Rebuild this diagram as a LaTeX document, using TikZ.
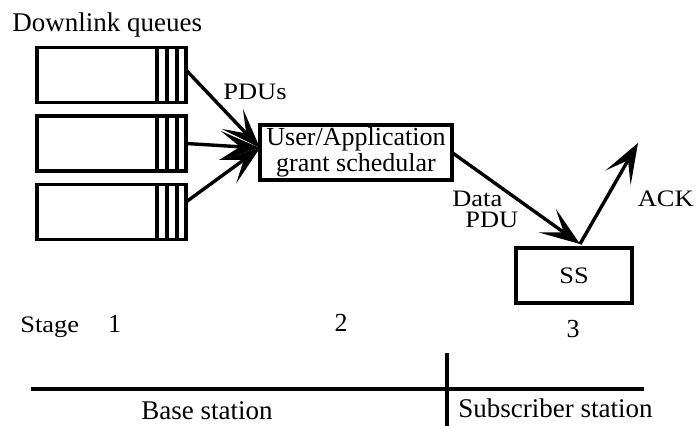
\documentclass[tikz,border=0pt]{standalone}
\usepackage{fontspec}
\setmainfont{Liberation Serif}
\newfontfamily\lblfont[FakeStretch=1.12]{Liberation Serif}
\usetikzlibrary{arrows.meta, positioning}

\tikzset{
  queue/.style={draw, line width=1.9pt, minimum width=74.5pt, minimum height=27.5pt, inner sep=0pt, outer sep=0pt},
  box/.style={draw, line width=1.9pt, minimum height=27.5pt, inner sep=0pt, outer sep=0pt, align=center},
  flow/.style={line width=1.7pt, -{Stealth[length=20pt, width=14.5pt, inset=10pt]}},
  big/.style={font=\fontsize{13.5}{16}\selectfont, inner sep=0pt},
  small/.style={font=\lblfont\fontsize{11.8}{13}\selectfont, inner sep=0pt},
  num/.style={font=\fontsize{13}{15}\selectfont, inner sep=0pt},
}

\begin{document}
\begin{tikzpicture}[x=0.5pt, y=-0.5pt]
  \useasboundingbox (0,0) rectangle (697,426);
  \node[big, anchor=base west] (title) at (12,32) {Downlink queues};
  \node[queue] (q1) at (111.5,75) {};
  \node[queue, below=6.75pt of q1] (q2) {};
  \node[queue, below=6.75pt of q2] (q3) {};
  \foreach \q in {q1,q2,q3}{
    \foreach \d in {14.5,9.5,4.5}
      \draw[line width=1.8pt] ([xshift=-\d pt]\q.north east) -- ([xshift=-\d pt]\q.south east);
  }
  \node[box, minimum width=96pt, font=\fontsize{13}{10}\selectfont] (sched) at (356,152.5) {User/Application\\grant schedular};
  \node[box, minimum width=58pt, font=\lblfont\fontsize{11.8}{13}\selectfont] (ss) at (574,275.5) {SS};
  \coordinate (in) at ([yshift=2.25pt]sched.west);
  \coordinate (hit) at ([xshift=3pt, yshift=2pt]ss.north);
  \coordinate (ackend) at (638,143);
  \draw[flow] ([yshift=2.5pt]q1.east) -- (in);
  \draw[flow] (q2.east) -- (in);
  \draw[flow] ([yshift=5pt]q3.east) -- (in);
  \draw[flow] (sched.east) -- (hit);
  \draw[flow] (hit) -- (ackend);
  \node[small, anchor=base west] (pdus) at (223,100) {PDUs};
  \node[small, anchor=base west] (data) at (452,207) {Data};
  \node[small, anchor=base west] (pdu) at (465,228) {PDU};
  \node[small, anchor=base east] (ack) at (694,207) {ACK};
  \node[small, anchor=base west] (stage) at (20,333) {Stage};
  \node[num, anchor=base] (s1) at (114.5,333) {1};
  \node[num, anchor=base] (s2) at (341,332) {2};
  \node[num, anchor=base] (s3) at (573,338) {3};
  \coordinate (lineL) at (31,389);
  \coordinate (lineR) at (644,389);
  \coordinate (divT) at (447,353);
  \coordinate (divB) at (447,426);
  \draw[line width=1.7pt] (lineL) -- (lineR);
  \draw[line width=1.7pt] (divT) -- (divB);
  \node[big, anchor=base] (bs) at (207,420) {Base station};
  \node[big, anchor=base west] (subs) at (458,418) {Subscriber station};
\end{tikzpicture}
\end{document}
